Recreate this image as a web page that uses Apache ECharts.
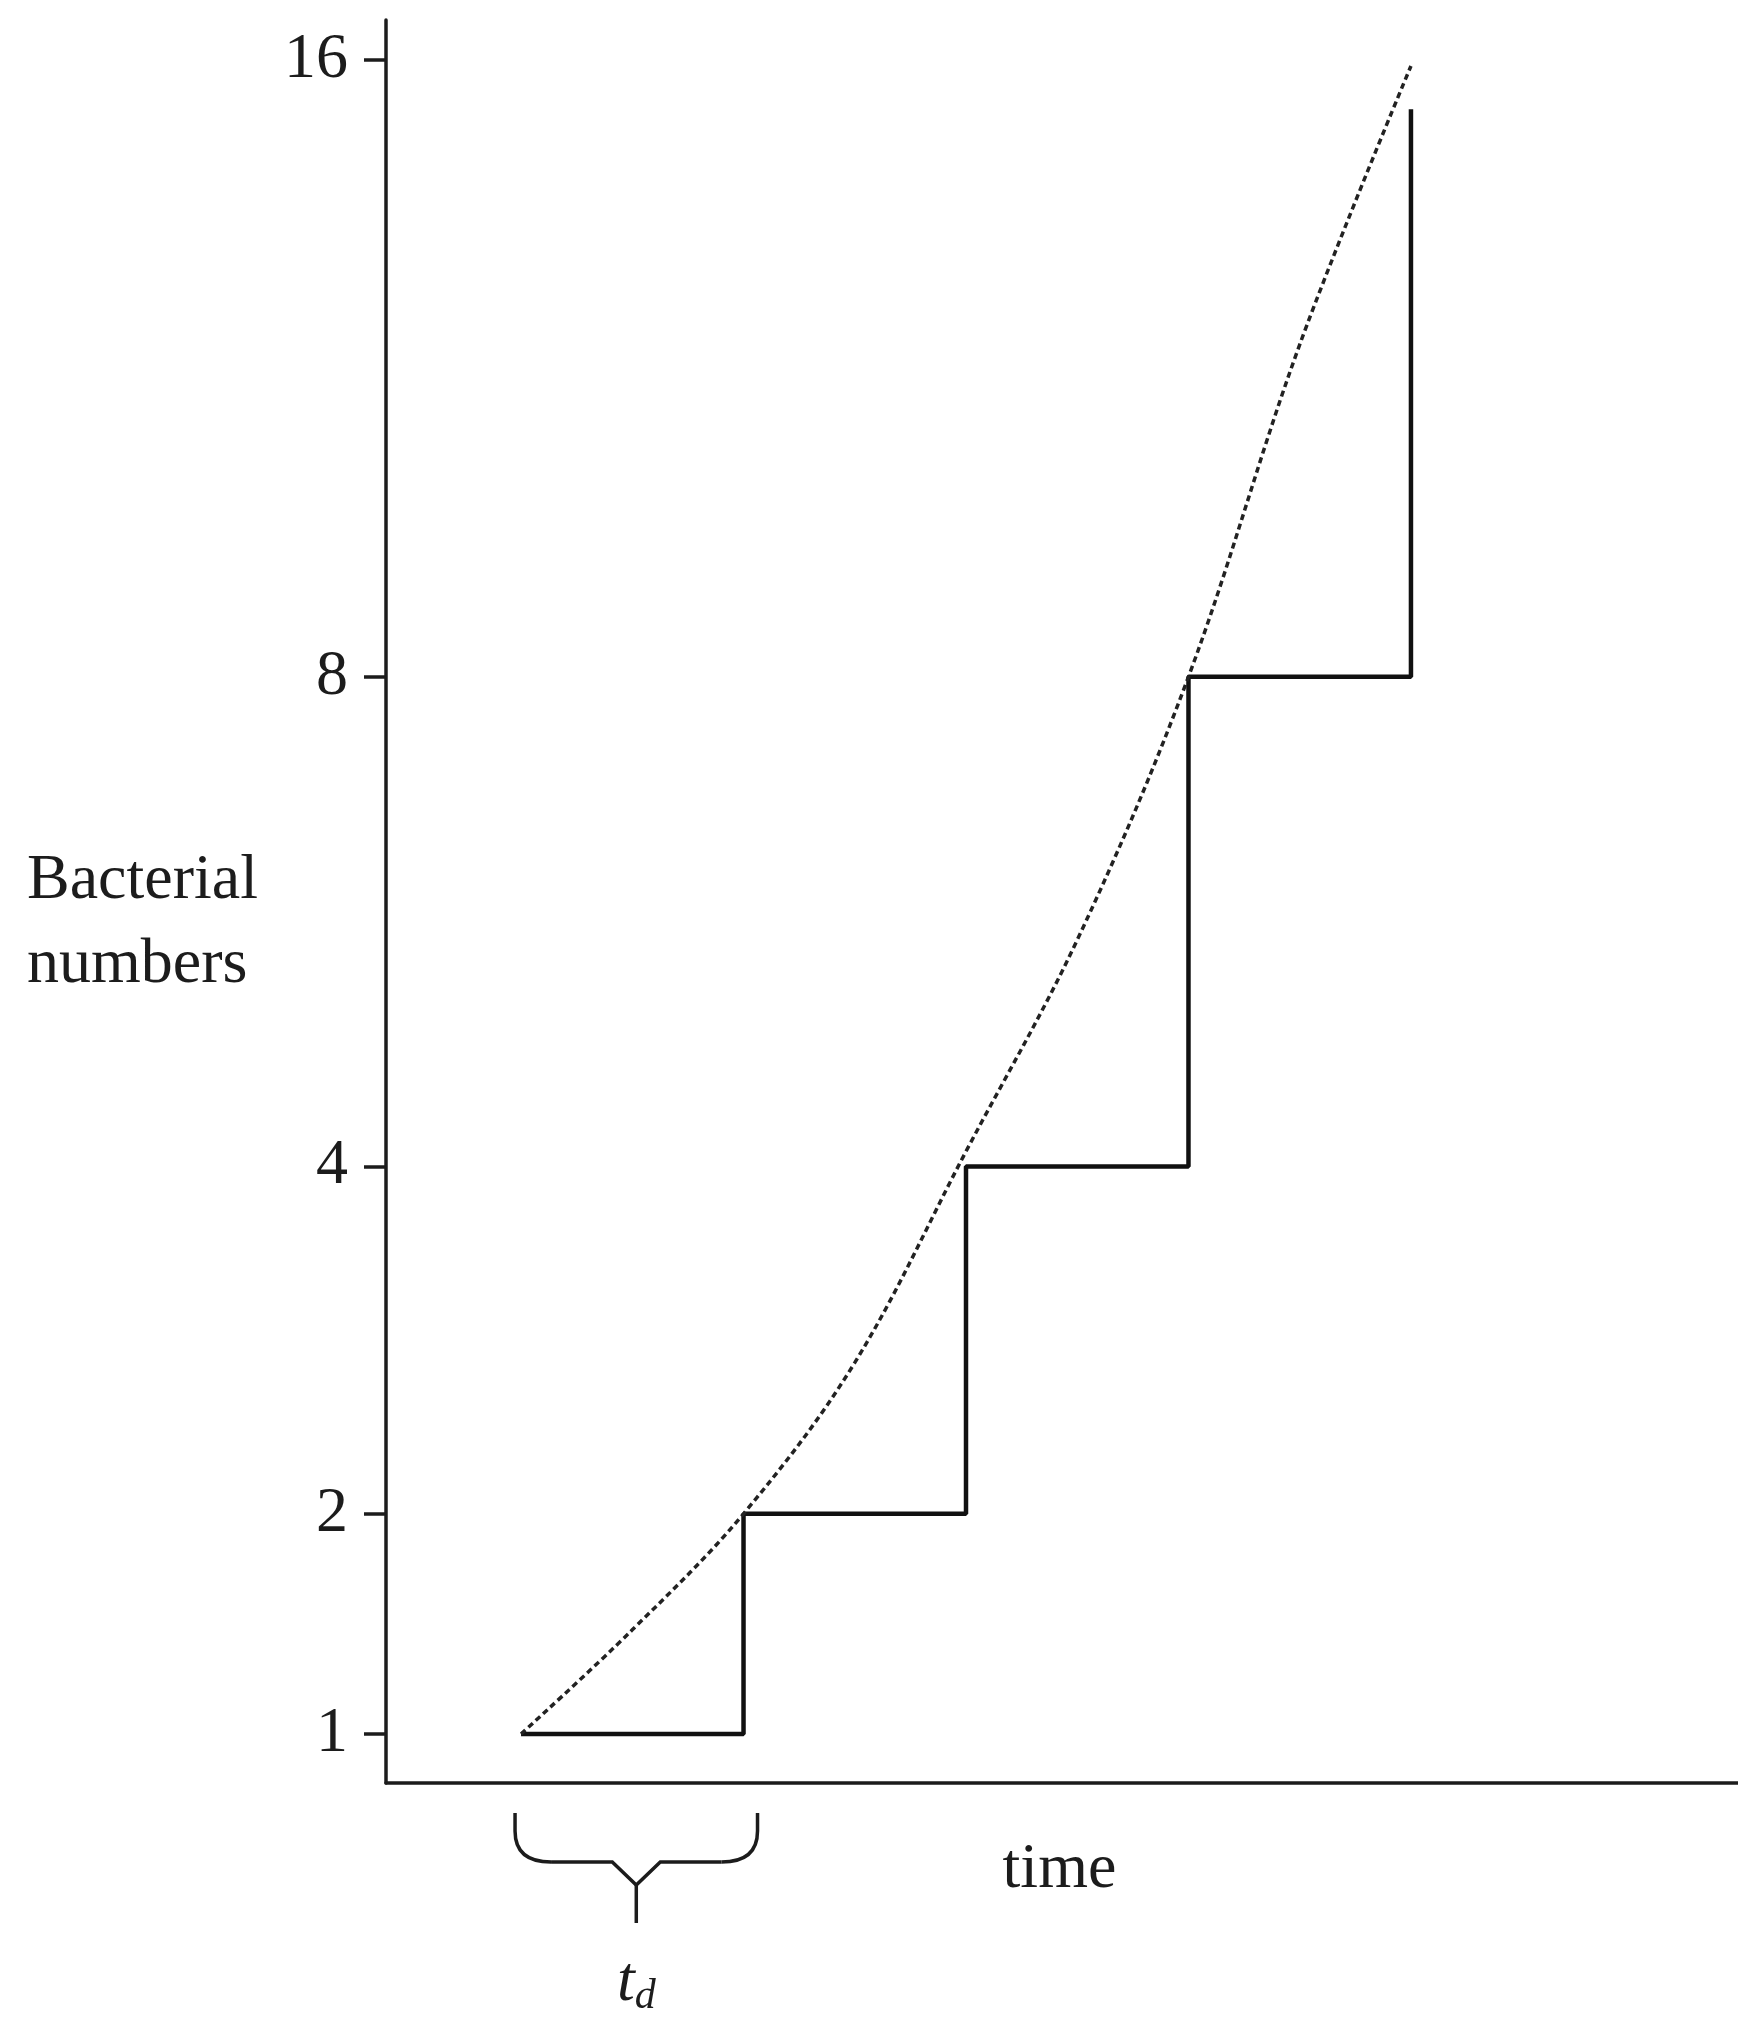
<!DOCTYPE html>
<html>
<head>
<meta charset="utf-8">
<script src="https://cdn.jsdelivr.net/npm/echarts@6/dist/echarts.min.js"></script>
<style>
html,body{margin:0;padding:0;background:#fff;}
#chart{width:1738px;height:2017px;}
</style>
</head>
<body>
<div id="chart"></div>
<script>
// ---- data ----
const tickValues = [1, 2, 4, 8, 16];
const stepTimes = [0, 1, 2, 3, 4];
const stepLevels = [1, 2, 4, 8, 15.2];
const curveTimes = [0, 0.5, 1, 1.5, 2, 2.5, 3, 3.5, 4];
const curveValues = [1, 1.45, 2, 2.8, 4.1, 5.65, 8, 11.8, 15.9];
const braceSpan = [0, 1];
const xName = 'time';
const yName = 'Bacterial\nnumbers';

// display transform of the hand-drawn vertical axis (offset log)
const OFFSET = 4;
const T = v => Math.log(v + OFFSET);
const inv = u => Math.exp(u) - OFFSET;

const FONT = '"Liberation Serif", "Times New Roman", serif';
const INK = '#1c1c1c';

const chart = echarts.init(document.getElementById('chart'), null, {renderer: 'canvas'});

const stepData = stepTimes.map((t, i) => [t, T(stepLevels[i])]);
const curveData = curveTimes.map((t, i) => [t, T(curveValues[i])]);
const Y_MIN = 1.5688, Y_MAX = 3.0288;

chart.setOption({
  animation: false,
  backgroundColor: '#fff',
  grid: {left: 386, right: 0, top: 20, bottom: 234, containLabel: false},
  xAxis: {
    type: 'value', min: -0.607, max: 5.47,
    axisLine: {show: true, onZero: false, lineStyle: {color: INK, width: 3.5}},
    axisTick: {show: false}, axisLabel: {show: false}, splitLine: {show: false}
  },
  yAxis: {
    type: 'value', min: Y_MIN, max: Y_MAX,
    axisLine: {show: true, onZero: false, lineStyle: {color: INK, width: 3.5}},
    axisTick: {show: true, inside: false, length: 22, customValues: tickValues.map(T),
               lineStyle: {color: INK, width: 3.5}},
    axisLabel: {show: true, margin: 38, customValues: tickValues.map(T),
                formatter: v => String(Math.round(inv(v))),
                fontFamily: FONT, fontSize: 64, color: INK},
    splitLine: {show: false}
  },
  series: [
    {
      type: 'line', name: 'divisions', step: 'end', data: stepData,
      showSymbol: false, symbol: 'none',
      lineStyle: {color: '#111', width: 4.5}
    },
    {
      type: 'line', name: 'growth', smooth: 0.35, data: curveData,
      showSymbol: false, symbol: 'none',
      lineStyle: {color: '#222', width: 3.5, type: [6, 4]}
    }
  ]
});

// annotations positioned through the axes
const px = t => chart.convertToPixel({gridIndex: 0}, [t, T(1)])[0];
const axisY = chart.convertToPixel({gridIndex: 0}, [0, Y_MIN])[1];
const x0 = px(braceSpan[0]) - 6, x1 = px(braceSpan[1]) + 14, xc = (x0 + x1) / 2;
const yTop = axisY + 30, yMid = axisY + 79, yTip = axisY + 102, yEnd = axisY + 140;
const braceStyle = {stroke: INK, lineWidth: 3.5, fill: null};

chart.setOption({
  graphic: [
    {type: 'polyline', shape: {points: [[x0, yTop], [x0, yTop + 18]]}, style: braceStyle},
    {type: 'bezierCurve', shape: {x1: x0, y1: yTop + 18, cpx1: x0, cpy1: yMid, x2: x0 + 36, y2: yMid}, style: braceStyle},
    {type: 'polyline', shape: {points: [[x0 + 36, yMid], [xc - 24, yMid], [xc, yTip], [xc + 24, yMid], [x1 - 36, yMid]]}, style: braceStyle},
    {type: 'polyline', shape: {points: [[xc, yTip], [xc, yEnd]]}, style: braceStyle},
    {type: 'bezierCurve', shape: {x1: x1 - 36, y1: yMid, cpx1: x1, cpy1: yMid, x2: x1, y2: yTop + 18}, style: braceStyle},
    {type: 'polyline', shape: {points: [[x1, yTop + 18], [x1, yTop]]}, style: braceStyle},
    {type: 'text', x: 27, y: 923, style: {text: yName, font: `64px ${FONT}`, fill: INK,
      align: 'left', verticalAlign: 'middle', lineHeight: 84}},
    {type: 'text', x: px(2.42), y: 1870, style: {text: xName, font: `64px ${FONT}`, fill: INK,
      align: 'center', verticalAlign: 'middle'}},
    {type: 'text', x: xc, y: 1983, style: {
      text: '{t|t}{d|d}', align: 'center', verticalAlign: 'middle', fill: INK,
      rich: {
        t: {fontFamily: FONT, fontStyle: 'italic', fontSize: 64, fill: INK},
        d: {fontFamily: FONT, fontStyle: 'italic', fontSize: 42, fill: INK, padding: [28, 0, 0, 0]}
      }}}
  ]
});
</script>
</body>
</html>
